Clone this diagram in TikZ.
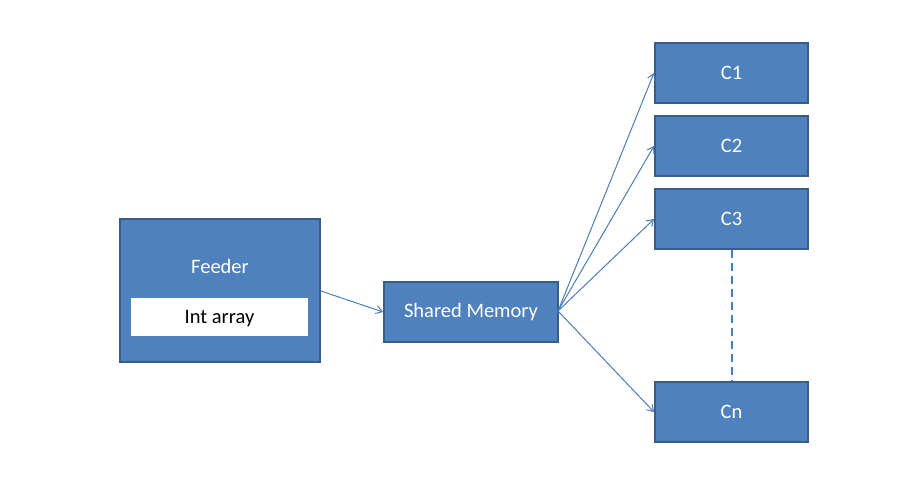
\documentclass[tikz,border=0pt]{standalone}
\usepackage{fontspec}
\setmainfont{Carlito}
\usetikzlibrary{arrows.meta}
\definecolor{boxfill}{HTML}{4F81BD}
\definecolor{boxline}{HTML}{385D8A}
\definecolor{arrowc}{HTML}{4A7EBB}
\begin{document}
\begin{tikzpicture}[x=1pt,y=-1pt,
  lbl/.style={font=\fontsize{20.5}{24}\selectfont},
  bluebox/.style={draw=boxline,fill=boxfill,line width=2pt,text=white,inner sep=0pt,lbl},
  whitebox/.style={fill=white,draw=none,text=black,inner sep=0pt,lbl},
  conn/.style={draw=arrowc,line width=1pt,-{Straight Barb[length=6pt,width=8pt]}}]
\useasboundingbox (0,0) rectangle (916,477);
\node[bluebox,minimum width=200pt,minimum height=143pt] (feeder) at (220,290.5) {};
\node[text=white,lbl] (feedertxt) at (220,266) {Feeder};
\node[whitebox,minimum width=177pt,minimum height=38pt] (intarr) at (219.5,317) {};
\node[lbl,text=black] (intarrtxt) at (219.5,318.5) {Int array};
\node[bluebox,minimum width=174pt,minimum height=60pt] (shm) at (471,312) {Shared Memory};
\node[bluebox,minimum width=153pt,minimum height=60pt] (c1) at (731.5,73) {C1};
\node[bluebox,minimum width=153pt,minimum height=60pt] (c2) at (731.5,146) {C2};
\node[bluebox,minimum width=153pt,minimum height=60pt] (c3) at (731.5,219) {C3};
\node[bluebox,minimum width=153pt,minimum height=60pt] (cn) at (731.5,412) {Cn};
\coordinate (sr) at (558,311);
\draw[conn] (feeder.east |- 0,291) -- (shm.west);
\draw[conn] (sr) -- (c1.west);
\draw[conn] (sr) -- (c2.west);
\draw[conn] (sr) -- (c3.west);
\draw[conn] (sr) -- (cn.west);
\draw[draw=arrowc,line width=2pt,dash pattern=on 8pt off 5pt] (c3.south) -- (cn.north);
\end{tikzpicture}
\end{document}
